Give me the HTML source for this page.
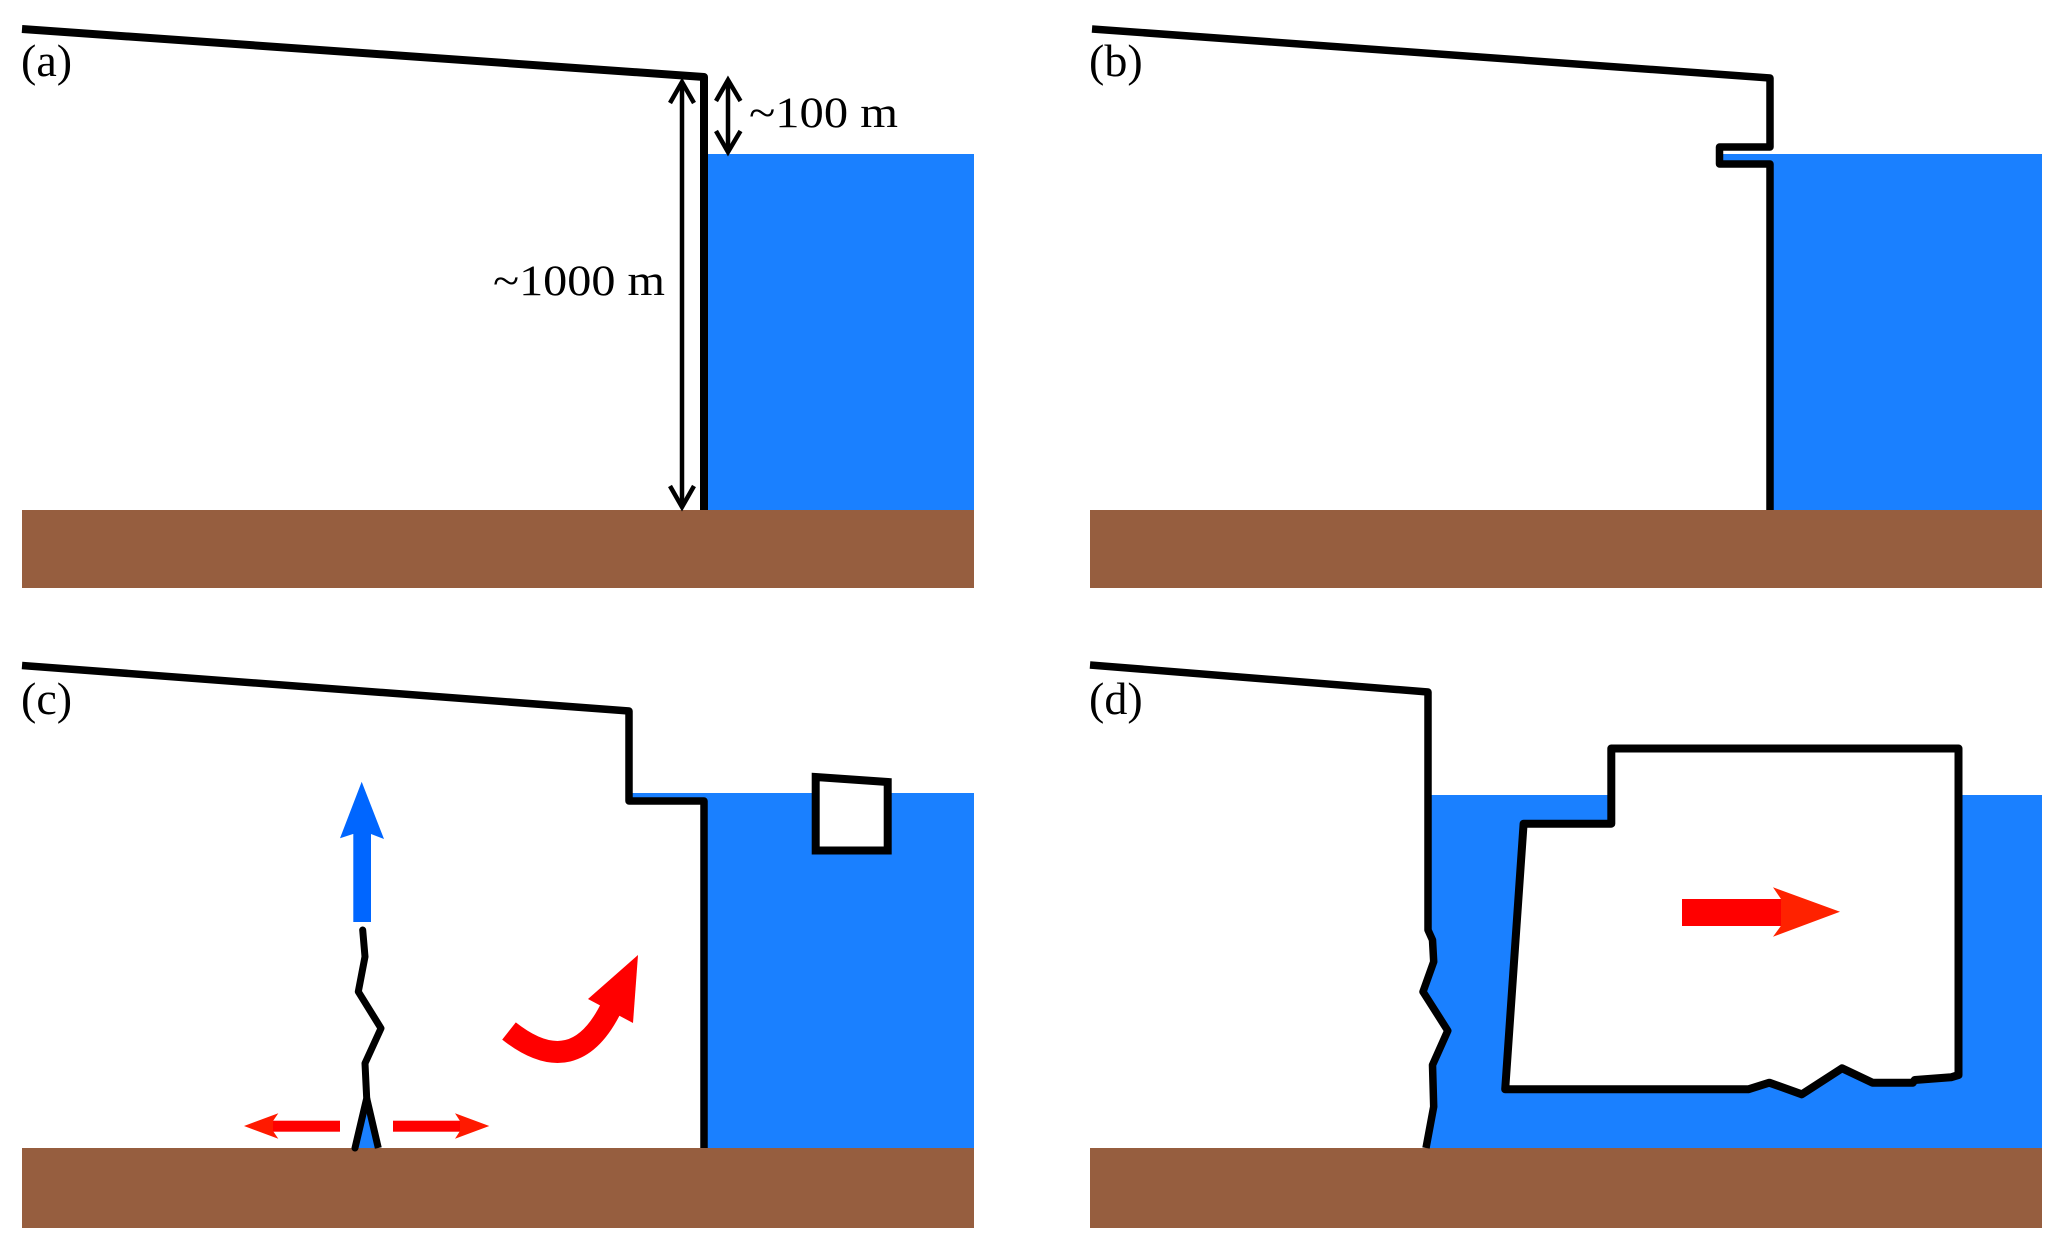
<!DOCTYPE html>
<html>
<head>
<meta charset="utf-8">
<style>
  html, body { margin: 0; padding: 0; background: #ffffff; }
  svg { display: block; }
  text { font-family: "Liberation Serif", "DejaVu Serif", serif; fill: #000; }
</style>
</head>
<body>
<svg width="2067" height="1253" viewBox="0 0 2067 1253" xmlns="http://www.w3.org/2000/svg">
  <rect x="0" y="0" width="2067" height="1253" fill="#ffffff"/>

  <!-- ================= Panel (a) ================= -->
  <rect x="707" y="154" width="267" height="356" fill="#1A80FF"/>
  <rect x="22" y="510" width="952" height="78" fill="#965E3F"/>
  <polygon points="22,29 704,77 704,510 22,510" fill="#ffffff"/>
  <polyline points="22,29 704,77 704,510" fill="none" stroke="#000" stroke-width="8" stroke-linejoin="round"/>
  <!-- long dimension arrow -->
  <line x1="682" y1="84" x2="682" y2="505" stroke="#000" stroke-width="4.5"/>
  <polyline points="670,103 682,82 694,103" fill="none" stroke="#000" stroke-width="4.5"/>
  <polyline points="670,486 682,507 694,486" fill="none" stroke="#000" stroke-width="4.5"/>
  <!-- short dimension arrow -->
  <line x1="728" y1="82" x2="728" y2="150" stroke="#000" stroke-width="4.5"/>
  <polyline points="716,101 728,80 740.5,101" fill="none" stroke="#000" stroke-width="4.5"/>
  <polyline points="716,131 728,152 740.5,131" fill="none" stroke="#000" stroke-width="4.5"/>
  <text x="749" y="127" font-size="43" textLength="149" lengthAdjust="spacingAndGlyphs">~100 m</text>
  <text x="493" y="295" font-size="43" textLength="172" lengthAdjust="spacingAndGlyphs">~1000 m</text>
  <text x="21" y="76" font-size="46">(a)</text>

  <!-- ================= Panel (b) ================= -->
  <rect x="1720" y="154" width="322" height="356" fill="#1A80FF"/>
  <rect x="1090" y="510" width="952" height="78" fill="#965E3F"/>
  <polygon points="1092,29 1770,78 1770,147 1719.5,147 1719.5,164 1770,164 1770,510 1090,510" fill="#ffffff"/>
  <polyline points="1092,29 1770,78 1770,147 1719.5,147 1719.5,164 1770,164 1770,510" fill="none" stroke="#000" stroke-width="7.5" stroke-linejoin="round"/>
  <text x="1089" y="76" font-size="46">(b)</text>

  <!-- ================= Panel (c) ================= -->
  <rect x="630" y="793" width="344" height="355" fill="#1A80FF"/>
  <rect x="22" y="1148" width="952" height="80" fill="#965E3F"/>
  <polygon points="22,665.5 629,711 629,801 704,801 704,1148 22,1148" fill="#ffffff"/>
  <polyline points="22,665.5 629,711 629,801 704,801 704,1148" fill="none" stroke="#000" stroke-width="7.5" stroke-linejoin="round"/>
  <!-- small iceberg -->
  <polygon points="815.7,777 887.7,782 887.7,850.5 815.7,850.5" fill="#ffffff" stroke="#000" stroke-width="8" stroke-linejoin="miter"/>
  <!-- blue up arrow -->
  <rect x="353.3" y="833" width="17.7" height="89" fill="#0066FF"/>
  <polygon points="361.7,781.7 384,839 371,834 353,834 340,838.3" fill="#0066FF"/>
  <!-- crack -->
  <polygon points="366.7,1102 356.5,1148 377.5,1148" fill="#1A80FF"/>
  <polyline points="362.7,930 365,956.7 358.3,991.7 381,1028.3 365,1063.3 366.7,1098.3 355,1148" fill="none" stroke="#000" stroke-width="7" stroke-linejoin="round" stroke-linecap="round"/>
  <polyline points="366.7,1098.3 378.3,1148" fill="none" stroke="#000" stroke-width="7" stroke-linecap="butt"/>
  <!-- red horizontal arrows -->
  <rect x="263" y="1120.7" width="77" height="11" fill="#FF0000"/>
  <polygon points="244,1126 278.3,1113.3 273,1121 273,1131 278.3,1138.7" fill="#FF1A00"/>
  <rect x="393" y="1120.7" width="75" height="11" fill="#FF0000"/>
  <polygon points="489.3,1126 455,1113.3 460,1121 460,1131 455,1138.7" fill="#FF1A00"/>
  <!-- red curved arrow -->
  <path d="M509,1031 Q575,1083 612,1006" fill="none" stroke="#FF0000" stroke-width="22" stroke-linecap="butt"/>
  <polygon points="588,999 638,955 633,1023" fill="#FF0000"/>
  <text x="21" y="714" font-size="46">(c)</text>

  <!-- ================= Panel (d) ================= -->
  <rect x="1426" y="795" width="616" height="353" fill="#1A80FF"/>
  <rect x="1090" y="1148" width="952" height="80" fill="#965E3F"/>
  <polygon points="1090,665 1428,692 1428,930 1432.5,940 1433.7,961.7 1423,991.7 1447.8,1030.7 1432.5,1065 1433.7,1106.7 1426,1148 1090,1148" fill="#ffffff"/>
  <polyline points="1090,665 1428,692 1428,930 1432.5,940 1433.7,961.7 1423,991.7 1447.8,1030.7 1432.5,1065 1433.7,1106.7 1426,1148" fill="none" stroke="#000" stroke-width="7.5" stroke-linejoin="round"/>
  <!-- large iceberg -->
  <polygon points="1611.3,748.5 1958.5,748.5 1958.5,1075 1951,1077.3 1914.7,1080 1912.8,1082.7 1872.6,1082.7 1842,1068.3 1801.8,1094.3 1769.3,1082.7 1748.3,1089.3 1505.2,1089.3 1523.6,823.7 1611.3,823.7" fill="#ffffff" stroke="#000" stroke-width="8" stroke-linejoin="round"/>
  <!-- red right arrow -->
  <rect x="1682" y="899" width="112" height="27" fill="#FF0000"/>
  <polygon points="1773,887.3 1840,911.7 1773,936.7 1781,925.7 1781,899" fill="#FF2200"/>
  <text x="1089" y="714" font-size="46">(d)</text>
</svg>
</body>
</html>
